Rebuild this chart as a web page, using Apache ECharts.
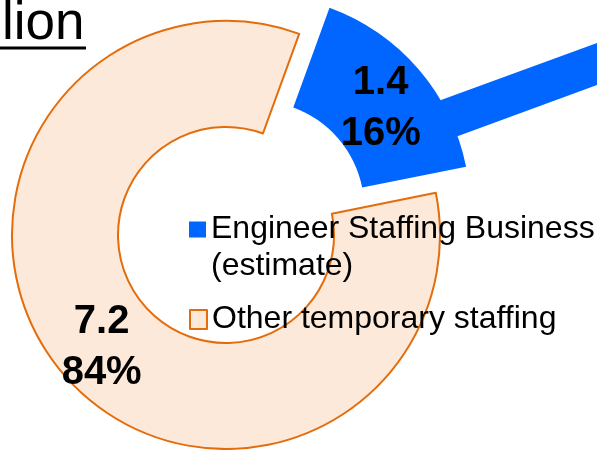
<!DOCTYPE html>
<html>
<head>
<meta charset="utf-8">
<script src="https://cdn.jsdelivr.net/npm/echarts@6/dist/echarts.min.js"></script>
<style>html,body{margin:0;padding:0;background:#fff;}#c{width:597px;height:450px;}</style>
</head>
<body>
<div id="c"></div>
<script>
const categories = ['Engineer Staffing Business (estimate)', 'Other temporary staffing'];
const legendLabels = ['Engineer Staffing Business\n(estimate)', 'Other temporary staffing'];
const values = [1.4, 7.2];
const unitText = 'billion';

const BLUE = '#0066FF';
const PEACH = '#FDE9D9';
const ORANGE = '#E46C0A';
const FONT = 'Liberation Sans, Arial, sans-serif';

const chart = echarts.init(document.getElementById('c'), null, {renderer: 'canvas'});
chart.setOption({
  animation: false,
  backgroundColor: '#ffffff',
  legend: [
    {
      data: [{name: categories[0], icon: 'rect', itemStyle: {color: BLUE, borderWidth: 0}}],
      orient: 'vertical', left: 189, top: 174, padding: 0,
      itemWidth: 17, itemHeight: 16, itemGap: 0,
      selectedMode: false,
      formatter: () => '\n' + legendLabels[0],
      textStyle: {fontFamily: FONT, fontSize: 32, color: '#000', lineHeight: 37}
    },
    {
      data: [{name: categories[1], icon: 'rect', itemStyle: {color: PEACH, borderColor: ORANGE, borderWidth: 2}}],
      orient: 'vertical', left: 189, top: 301, padding: 0,
      itemWidth: 17, itemHeight: 19, itemGap: 0,
      selectedMode: false,
      formatter: () => legendLabels[1],
      textStyle: {fontFamily: FONT, fontSize: 32, color: '#000', lineHeight: 37}
    }
  ],
  graphic: [
    {type: 'polygon', z: 0, shape: {points: [[400,115],[600,42],[600,84],[420,150]]}, style: {fill: BLUE}},
    {type: 'text', x: -51, y: 24, style: {text: unitText, font: '53px ' + FONT, fill: '#000', verticalAlign: 'middle', align: 'left'}},
    {type: 'line', shape: {x1: 0, y1: 48, x2: 86, y2: 48}, style: {stroke: '#000', lineWidth: 3}}
  ],
  series: [{
    type: 'pie',
    center: [226, 235],
    radius: [108, 214],
    startAngle: 70,
    clockwise: true,
    selectedMode: 'single',
    selectedOffset: 40,
    percentPrecision: 0,
    avoidLabelOverlap: false,
    emphasis: {disabled: true},
    label: {
      show: true, position: 'inside',
      formatter: '{p|}\n{c}\n{d}%',
      fontFamily: FONT, fontSize: 40, fontWeight: 'bold', color: '#000', lineHeight: 51,
      rich: {p: {lineHeight: 12, fontSize: 10}}
    },
    labelLine: {show: false},
    data: [
      {name: categories[0], value: values[0], selected: true,
       itemStyle: {color: BLUE, borderWidth: 0}},
      {name: categories[1], value: values[1],
       itemStyle: {color: PEACH, borderColor: ORANGE, borderWidth: 2}}
    ]
  }]
});
</script>
</body>
</html>
